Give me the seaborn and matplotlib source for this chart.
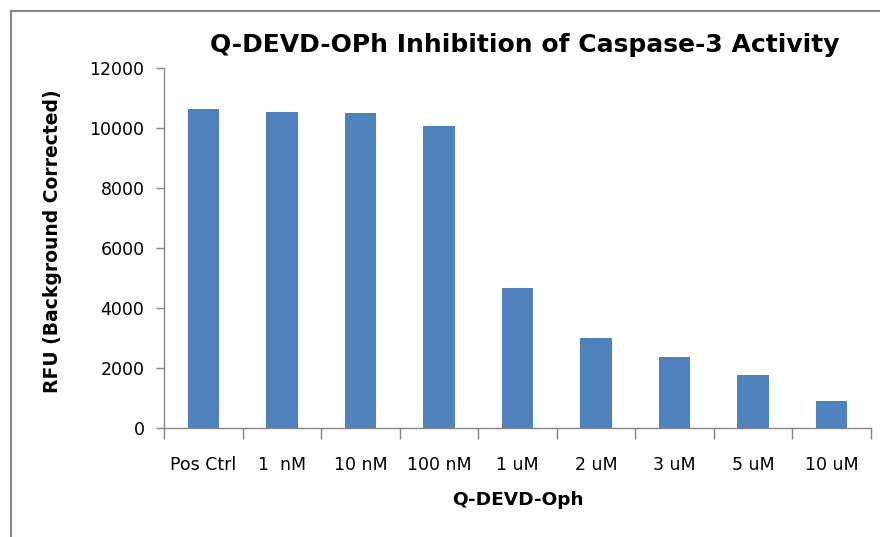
import matplotlib
matplotlib.use("Agg")
from matplotlib import pyplot as plt
from matplotlib.lines import Line2D
import seaborn as sns
import pandas as pd

labels = ["Pos Ctrl", "1  nM", "10 nM", "100 nM", "1 uM", "2 uM", "3 uM", "5 uM", "10 uM"]
rfu = [10630, 10530, 10500, 10080, 4670, 3000, 2370, 1770, 900]

df = pd.DataFrame({"dose": labels, "rfu": rfu})

sns.set_theme(style="white")
plt.rcParams["font.family"] = ["DejaVu Sans"]
plt.rcParams["text.color"] = "black"
plt.rcParams["axes.labelcolor"] = "black"
plt.rcParams["xtick.color"] = "black"
plt.rcParams["ytick.color"] = "black"
grey = "#868686"

fig = plt.figure(figsize=(8.8, 5.37), dpi=100)
ax = fig.add_axes([164 / 880, 109 / 537, 707 / 880, 360 / 537])
sns.barplot(x="dose", y="rfu", data=df, color="#4F81BD", width=0.4,
            saturation=1, linewidth=0, ax=ax)

ax.set_ylim(0, 12000)
ax.set_xlim(-0.5, len(labels) - 0.5)
ax.set_yticks(range(0, 12001, 2000))
ax.set_yticklabels([str(v) for v in range(0, 12001, 2000)])
ax.set_xticks([i - 0.5 for i in range(len(labels) + 1)], minor=True)
ax.tick_params(axis="x", which="major", length=0, labelsize=12.5, pad=20)
ax.tick_params(axis="x", which="minor", bottom=True, length=8, color=grey,
               width=1, direction="out")
ax.tick_params(axis="y", length=6, color=grey, labelcolor="black", width=1,
               labelsize=12.5, pad=8, left=True)
for s in ["top", "right"]:
    ax.spines[s].set_visible(False)
for s in ["left", "bottom"]:
    ax.spines[s].set_color(grey)
    ax.spines[s].set_linewidth(1)

ax.set_xlabel("Q-DEVD-Oph", fontsize=13.3, fontweight="bold", color="black")
ax.xaxis.set_label_coords(0.50, -0.175)
ax.set_ylabel("RFU (Background Corrected)", fontsize=13.5, fontweight="bold", color="black")
ax.yaxis.set_label_coords(-0.144, 0.52)

fig.text(525 / 880, 1 - 45 / 537, "Q-DEVD-OPh Inhibition of Caspase-3 Activity",
         ha="center", va="center", fontsize=18, fontweight="bold", color="black")

# chart frame (top and left edges)
fig.add_artist(Line2D([11 / 880, 1], [1 - 11 / 537, 1 - 11 / 537], color=grey, lw=1.5))
fig.add_artist(Line2D([11 / 880, 11 / 880], [0, 1 - 11 / 537], color=grey, lw=1.5))

fig.savefig("out.png", dpi=100)
